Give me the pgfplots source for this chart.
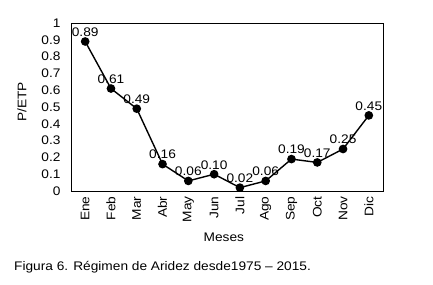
\documentclass[border=0pt]{standalone}
\usepackage{fontspec}
\setmainfont[FakeStretch=1.1]{Liberation Sans}
\usepackage{pgfplots}
\pgfplotsset{compat=1.18}
\newcommand{\fs}{\fontsize{12.5}{14}\selectfont}
\begin{document}
\begin{tikzpicture}[x=1bp,y=1bp]
\useasboundingbox (0,0) rectangle (433,284);
\begin{axis}[
  at={(71bp,93bp)}, anchor=south west,
  scale only axis, width=312bp, height=168bp,
  xmin=-0.55, xmax=11.55, ymin=0, ymax=1,
  xtick={0,...,11},
  xticklabels={Ene,Feb,Mar,Abr,May,Jun,Jul,Ago,Sep,Oct,Nov,Dic},
  xticklabel style={rotate=90, anchor=east, font=\fs, xshift=-2bp},
  ytick={0,0.1,...,1.01},
  yticklabel style={font=\fs, xshift=-7bp},
  major tick length=0pt,
  axis line style={black, line width=0.8bp},
  /pgf/number format/assume math mode=true,
  xlabel={Meses}, ylabel={P/ETP},
  every axis x label/.style={at={(axis description cs:0.49,-0.274)}, anchor=center, font=\fs},
  every axis y label/.style={at={(axis description cs:-0.157,0.53)}, anchor=center, rotate=90, font=\fs},
  nodes near coords,
  nodes near coords style={font=\fs, anchor=south, yshift=1bp,
     /pgf/number format/.cd, fixed, fixed zerofill, precision=2},
  clip=false,
]
\addplot[black, line width=1.4bp, mark=*, mark size=3.6bp, mark options={fill=black}]
  coordinates {(0,0.89)(1,0.61)(2,0.49)(3,0.16)(4,0.06)(5,0.10)
               (6,0.02)(7,0.06)(8,0.19)(9,0.17)(10,0.25)(11,0.45)};
\end{axis}
\node[anchor=base west, font=\fs, inner sep=0] at (14,14) {Figura 6. Régimen de Aridez desde1975 – 2015.};
\end{tikzpicture}
\end{document}
